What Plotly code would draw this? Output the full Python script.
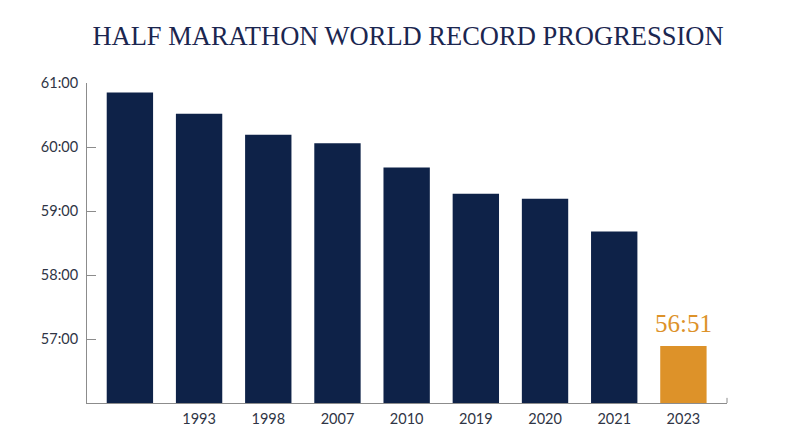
import plotly.graph_objects as go

# record times in minutes, oldest first (first record has no year label)
years = ["", "1993", "1998", "2007", "2010", "2019", "2020", "2021", "2023"]
times_min = [60.85, 60.52, 60.19, 60.06, 59.68, 59.27, 59.19, 58.68, 56.89]
latest_label = "56:51"

y_ticks = [57, 58, 59, 60, 61]
y_ticktext = ["57:00", "58:00", "59:00", "60:00", "61:00"]

NAVY = "#0e2248"
ORANGE = "#dd9229"
colors = [NAVY] * (len(years) - 1) + [ORANGE]
positions = list(range(len(years)))

fig = go.Figure()
fig.add_trace(go.Bar(
    x=positions,
    y=times_min,
    marker_color=colors,
    marker_line_width=0,
    showlegend=False,
    hoverinfo="skip",
))

fig.add_annotation(
    x=positions[-1], y=times_min[-1],
    text=latest_label,
    showarrow=False,
    yanchor="bottom",
    yshift=7,
    font=dict(family="Liberation Serif, serif", size=25, color=ORANGE),
)

# small end tick at the right of the x axis
fig.add_shape(type="line", xref="paper", yref="paper",
              x0=1, x1=1, y0=0, y1=0.016,
              line=dict(color="#8c8c8c", width=1))

# page body has an 8px margin, so margins are trimmed to keep the plot in place
fig.update_layout(
    width=800, height=447,
    margin=dict(l=79, r=81, t=75, b=52),
    paper_bgcolor="white",
    plot_bgcolor="white",
    bargap=0.33,
    title=dict(
        text="HALF MARATHON WORLD RECORD PROGRESSION",
        x=0.5, xanchor="center", y=0.937, yanchor="middle",
        font=dict(family="Liberation Serif, serif", size=26.5, color="#1b2650"),
    ),
    font=dict(family="Lato, sans-serif", size=14.5, color="#2f3545"),
)

fig.update_xaxes(
    range=[-0.62, 8.63],
    tickvals=positions,
    ticktext=years,
    showline=True, linecolor="#8c8c8c", linewidth=1,
    showgrid=False, zeroline=False, ticks="",
    ticklabelstandoff=3,
)
fig.update_yaxes(
    range=[56, 61],
    tickvals=y_ticks,
    ticktext=y_ticktext,
    showline=True, linecolor="#8c8c8c", linewidth=1,
    showgrid=False, zeroline=False,
    ticks="inside", ticklen=9, tickcolor="#8c8c8c",
    ticklabelstandoff=5,
)

fig.write_html("out.html")
